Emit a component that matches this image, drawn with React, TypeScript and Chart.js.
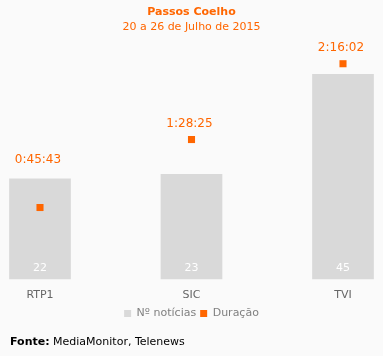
import React, { useEffect, useRef } from "react";
import { Chart, registerables } from "chart.js";

Chart.register(...registerables);

const categories = ["RTP1", "SIC", "TVI"];
const noticias = [22, 23, 45];
const duracaoSeconds = [2743, 5305, 8162];
const duracaoLabels = ["0:45:43", "1:28:25", "2:16:02"];
const titleText = "Passos Coelho";
const subtitleText = "20 a 26 de Julho de 2015";
const legendNames = ["Nº notícias", "Duração"];

const FONT = "'DejaVu Sans', Verdana, sans-serif";
const ORANGE = "#FF6600";
const GREY = "#D9D9D9";

const labelsPlugin = {
  id: "valueLabels",
  afterDatasetsDraw(chart: any) {
    const ctx = chart.ctx;
    const barMeta = chart.getDatasetMeta(0);
    const ptMeta = chart.getDatasetMeta(1);
    ctx.save();
    ctx.font = `11px ${FONT}`;
    ctx.textAlign = "center";
    ctx.textBaseline = "middle";
    barMeta.data.forEach((el: any, i: number) => {
      ctx.fillStyle = "#FFFFFF";
      ctx.fillText(String(noticias[i]), el.x, el.base - 11);
    });
    ctx.font = `12px ${FONT}`;
    ptMeta.data.forEach((el: any, i: number) => {
      const barTop = barMeta.data[i].y;
      const y = Math.min(el.y - 16, barTop - 19);
      ctx.fillStyle = ORANGE;
      ctx.fillText(duracaoLabels[i], el.x - 2, y);
    });
    ctx.restore();
  },
};

const footerPlugin = {
  id: "footer",
  afterDraw(chart: any) {
    const ctx = chart.ctx;
    ctx.save();
    ctx.textBaseline = "middle";
    ctx.textAlign = "left";
    ctx.fillStyle = "#000000";
    ctx.font = `bold 11px ${FONT}`;
    const bold = "Fonte:";
    ctx.fillText(bold, 10, 342);
    const w = ctx.measureText(bold).width;
    ctx.font = `11px ${FONT}`;
    ctx.fillText(" MediaMonitor, Telenews", 10 + w, 342);
    ctx.restore();
  },
};

const bgPlugin = {
  id: "bg",
  beforeDraw(chart: any) {
    const ctx = chart.ctx;
    ctx.save();
    ctx.fillStyle = "#FAFAFA";
    ctx.fillRect(0, 0, chart.width, chart.height);
    ctx.restore();
  },
};

export default function App() {
  const ref = useRef<HTMLCanvasElement>(null);
  useEffect(() => {
    if (!ref.current) return;
    const chart = new Chart(ref.current, {
      type: "bar",
      data: {
        labels: categories,
        datasets: [
          {
            type: "bar",
            label: legendNames[0],
            data: noticias,
            backgroundColor: GREY,
            borderWidth: 0,
            barThickness: 61,
            yAxisID: "y",
            pointStyle: "rect",
            clip: false,
            order: 2,
          } as any,
          {
            type: "line",
            label: legendNames[1],
            data: duracaoSeconds,
            showLine: false,
            pointStyle: "rect",
            pointRadius: 5,
            pointHoverRadius: 5,
            borderWidth: 0,
            backgroundColor: ORANGE,
            borderColor: ORANGE,
            yAxisID: "y2",
            clip: false,
            order: 1,
          } as any,
        ],
      },
      options: {
        responsive: false,
        animation: false,
        events: [],
        layout: { padding: { left: 40, right: 40, top: 0, bottom: 27 } },
        scales: {
          x: {
            offset: false,
            grid: { display: false },
            border: { display: false },
            ticks: { color: "#666666", font: { family: FONT, size: 11 }, padding: 2 },
          },
          y: { display: false, min: 0, max: 52.7 },
          y2: { display: false, min: 56, max: 9079, position: "right" },
        },
        plugins: {
          title: {
            display: true,
            text: titleText,
            color: ORANGE,
            font: { family: FONT, size: 11, weight: "bold" },
            padding: { top: 6, bottom: 1 },
          },
          subtitle: {
            display: true,
            text: subtitleText,
            color: ORANGE,
            font: { family: FONT, size: 11 },
            padding: { top: 0, bottom: 6 },
          },
          legend: {
            position: "bottom",
            labels: {
              usePointStyle: true,
              boxWidth: 7,
              boxHeight: 7,
              color: "#808080",
              font: { family: FONT, size: 11 },
              padding: 4,
              sort: (a: any, b: any) => a.datasetIndex - b.datasetIndex,
            },
          },
          tooltip: { enabled: false },
        },
      },
      plugins: [bgPlugin, labelsPlugin, footerPlugin],
    });
    return () => chart.destroy();
  }, []);
  return (
    <div style={{ position: "absolute", left: 0, top: 0, width: 383, height: 356, background: "#FAFAFA" }}>
      <canvas ref={ref} width={383} height={356} style={{ display: "block" }} />
    </div>
  );
}
